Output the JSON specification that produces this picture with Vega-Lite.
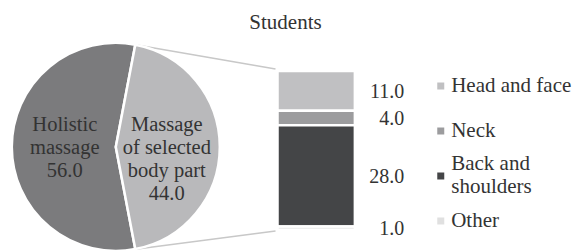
{
  "$schema": "https://vega.github.io/schema/vega-lite/v6.json",
  "width": 572,
  "height": 251,
  "autosize": {"type": "fit", "contains": "padding"},
  "padding": {"top": 12, "left": 0, "right": 0, "bottom": 0},
  "title": {"text": "Students", "font": "Liberation Serif", "fontSize": 21, "fontWeight": "normal", "color": "#333333", "anchor": "middle", "offset": 3},
  "config": {"view": {"stroke": null}, "font": "Liberation Serif"},
  "datasets": {
    "pie": [
      {"type": "Holistic massage", "value": 56},
      {"type": "Massage of selected body part", "value": 44}
    ],
    "parts": [
      {"part": "Head and face", "value": 11, "k": 1},
      {"part": "Neck", "value": 4, "k": 2},
      {"part": "Back and shoulders", "value": 28, "k": 3},
      {"part": "Other", "value": 1, "k": 4}
    ]
  },
  "resolve": {"scale": {"y": "independent", "color": "independent"}},
  "layer": [
    {
      "data": {"values": [{}]},
      "mark": {"type": "rule", "color": "#c8c8c8", "strokeWidth": 1.5},
      "encoding": {
        "x": {"datum": 23.69, "type": "quantitative", "scale": {"domain": [0, 100]}, "axis": null},
        "x2": {"datum": 48.25},
        "y": {"datum": 51.25, "type": "quantitative", "scale": {"domain": [-5.81, 53.69]}, "axis": null},
        "y2": {"datum": 44.55}
      }
    },
    {
      "data": {"values": [{}]},
      "mark": {"type": "rule", "color": "#c8c8c8", "strokeWidth": 1.5},
      "encoding": {
        "x": {"datum": 23.69, "type": "quantitative", "scale": {"domain": [0, 100]}, "axis": null},
        "x2": {"datum": 48.25},
        "y": {"datum": -5.31, "type": "quantitative", "scale": {"domain": [-5.81, 53.69]}, "axis": null},
        "y2": {"datum": -0.3}
      }
    },
    {
      "data": {"name": "pie"},
      "mark": {"type": "arc", "outerRadius": 104, "stroke": "white", "strokeWidth": 2.5},
      "encoding": {
        "theta": {"field": "value", "type": "quantitative", "stack": true, "scale": {"range": [0.1885, 6.47168]}},
        "order": {"field": "value", "type": "quantitative", "sort": "ascending"},
        "color": {"field": "type", "type": "nominal", "scale": {"domain": ["Holistic massage", "Massage of selected body part"], "range": ["#7b7b7d", "#b9b9bb"]}, "legend": null},
        "x": {"datum": 20.28, "type": "quantitative", "scale": {"domain": [0, 100]}, "axis": null},
        "y": {"datum": 23, "type": "quantitative", "scale": {"domain": [-5.81, 53.69]}, "axis": null}
      }
    },
    {
      "data": {"name": "pie"},
      "transform": [
        {"calculate": "datum.type == 'Holistic massage' ? ['Holistic', 'massage', format(datum.value, '.1f')] : ['Massage', 'of selected', 'body part', format(datum.value, '.1f')]", "as": "label"}
      ],
      "mark": {"type": "text", "radius": 51, "baseline": "top", "dy": -32, "fontSize": 20.5, "lineHeight": 23, "font": "Liberation Serif", "fill": "#333333"},
      "encoding": {
        "theta": {"field": "value", "type": "quantitative", "stack": true},
        "order": {"field": "value", "type": "quantitative", "sort": "ascending"},
        "text": {"field": "label", "type": "nominal"},
        "x": {"datum": 20.28, "type": "quantitative", "scale": {"domain": [0, 100]}, "axis": null},
        "y": {"datum": 23, "type": "quantitative", "scale": {"domain": [-5.81, 53.69]}, "axis": null}
      }
    },
    {
      "data": {"name": "parts"},
      "transform": [
        {"stack": "value", "groupby": [], "sort": [{"field": "k", "order": "descending"}], "as": ["v0", "v1"]}
      ],
      "mark": {"type": "bar", "stroke": "white", "strokeWidth": 2.5},
      "encoding": {
        "x": {"datum": 48.6, "type": "quantitative", "scale": {"domain": [0, 100]}, "axis": null},
        "x2": {"datum": 62.15},
        "y": {"field": "v0", "type": "quantitative", "scale": {"domain": [-5.81, 53.69]}, "axis": null},
        "y2": {"field": "v1"},
        "color": {"field": "part", "type": "nominal", "scale": {"domain": ["Head and face", "Neck", "Back and shoulders", "Other"], "range": ["#c0c0c2", "#9c9c9e", "#444547", "#e8e8e8"]}, "legend": null}
      }
    },
    {
      "data": {"name": "parts"},
      "transform": [
        {"stack": "value", "groupby": [], "sort": [{"field": "k", "order": "descending"}], "as": ["v0", "v1"]},
        {"calculate": "(datum.v0 + datum.v1) / 2", "as": "mid"}
      ],
      "mark": {"type": "text", "align": "right", "baseline": "middle", "dy": 1, "fontSize": 20, "font": "Liberation Serif", "fill": "#333333"},
      "encoding": {
        "x": {"datum": 70.8, "type": "quantitative", "scale": {"domain": [0, 100]}, "axis": null},
        "y": {"field": "mid", "type": "quantitative", "scale": {"domain": [-5.81, 53.69]}, "axis": null},
        "text": {"field": "value", "type": "quantitative", "format": ".1f"}
      }
    },
    {
      "data": {"name": "parts"},
      "mark": {"type": "square", "size": 49, "opacity": 1},
      "encoding": {
        "x": {"datum": 77.19, "type": "quantitative", "scale": {"domain": [0, 100]}, "axis": null},
        "y": {"field": "part", "type": "nominal", "scale": {"type": "point", "domain": ["Head and face", "Neck", "Back and shoulders", "Other"], "padding": 0.889, "align": 0.625}, "axis": null},
        "color": {"field": "part", "type": "nominal", "scale": {"domain": ["Head and face", "Neck", "Back and shoulders", "Other"], "range": ["#c0c0c2", "#9c9c9e", "#444547", "#e0e0e0"]}, "legend": null}
      }
    },
    {
      "data": {"name": "parts"},
      "transform": [{"filter": "datum.part != 'Back and shoulders'"}],
      "mark": {"type": "text", "align": "left", "baseline": "middle", "fontSize": 21, "font": "Liberation Serif", "fill": "#333333"},
      "encoding": {
        "x": {"datum": 79.02, "type": "quantitative", "scale": {"domain": [0, 100]}, "axis": null},
        "y": {"field": "part", "type": "nominal", "scale": {"type": "point", "domain": ["Head and face", "Neck", "Back and shoulders", "Other"], "padding": 0.889, "align": 0.625}, "axis": null},
        "text": {"field": "part", "type": "nominal"}
      }
    },
    {
      "data": {"name": "parts"},
      "transform": [
        {"filter": "datum.part == 'Back and shoulders'"},
        {"calculate": "['Back and', 'shoulders']", "as": "label"}
      ],
      "mark": {"type": "text", "align": "left", "baseline": "middle", "dy": -11.5, "fontSize": 21, "lineHeight": 23, "font": "Liberation Serif", "fill": "#333333"},
      "encoding": {
        "x": {"datum": 79.02, "type": "quantitative", "scale": {"domain": [0, 100]}, "axis": null},
        "y": {"field": "part", "type": "nominal", "scale": {"type": "point", "domain": ["Head and face", "Neck", "Back and shoulders", "Other"], "padding": 0.889, "align": 0.625}, "axis": null},
        "text": {"field": "label", "type": "nominal"}
      }
    }
  ]
}
